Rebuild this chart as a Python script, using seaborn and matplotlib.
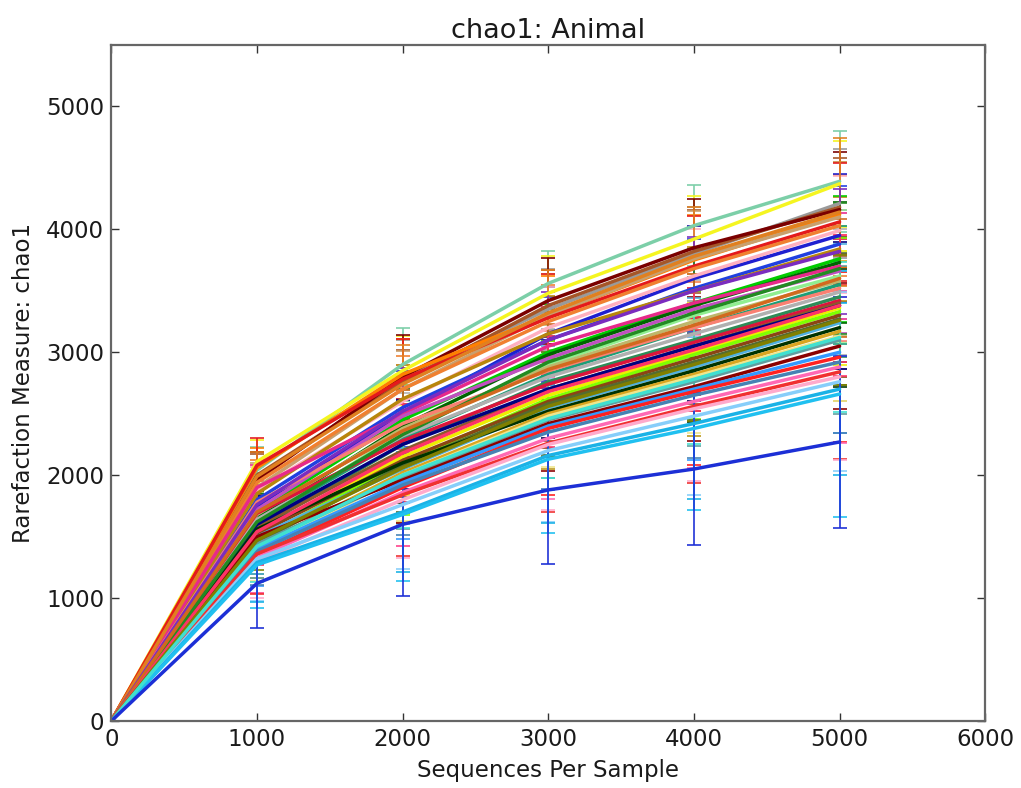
import numpy as np
import pandas as pd
import matplotlib
matplotlib.use('Agg')
import matplotlib.pyplot as plt
import seaborn as sns

# --- data: chao1 at each rarefaction depth ---
depths = [0, 1000, 2000, 3000, 4000, 5000]

mean_1000 = [2040, 2110, 1980, 2000, 1960, 2060, 1900, 2080, 1940, 1750, 1880, 1800, 1850,
             1700, 1650, 1900, 1720, 1600, 1680, 1620, 1780, 1640, 1560, 1690, 1580, 1540,
             1600, 1480, 1520, 1450, 1500, 1560, 1420, 1380, 1440, 1500, 1400, 1350, 1380,
             1330, 1360, 1300, 1320, 1290, 1270, 1990, 1760, 1620, 1700, 1540, 1470, 1420, 1120]
mean_2000 = [2900, 2850, 2780, 2760, 2800, 2820, 2700, 2780, 2700, 2500, 2600, 2550, 2620,
             2450, 2400, 2500, 2480, 2350, 2380, 2300, 2420, 2320, 2250, 2280, 2200, 2150,
             2250, 2100, 2120, 2080, 2050, 2100, 2020, 2000, 1980, 1960, 1940, 1900, 1920,
             1860, 1840, 1800, 1760, 1700, 1680, 2740, 2520, 2330, 2360, 2180, 2060, 2000, 1600]
mean_3000 = [3560, 3480, 3350, 3380, 3420, 3300, 3300, 3280, 3250, 3150, 3200, 3100, 3150,
             3000, 2980, 3050, 2950, 2900, 2880, 2820, 2850, 2800, 2760, 2740, 2700, 2650,
             2700, 2620, 2600, 2580, 2550, 2520, 2500, 2480, 2450, 2420, 2400, 2380, 2350,
             2300, 2260, 2250, 2200, 2160, 2130, 3320, 3100, 2920, 2860, 2680, 2560, 2460, 1880]
mean_4000 = [4030, 3920, 3800, 3820, 3850, 3750, 3760, 3700, 3680, 3600, 3620, 3520, 3500,
             3400, 3380, 3400, 3350, 3300, 3250, 3200, 3200, 3150, 3100, 3080, 3050, 3000,
             3050, 2980, 2950, 2920, 2880, 2850, 2820, 2800, 2760, 2720, 2700, 2680, 2650,
             2600, 2560, 2540, 2480, 2420, 2380, 3780, 3500, 3320, 3220, 3020, 2900, 2780, 2050]
mean_5000 = [4390, 4370, 4210, 4180, 4160, 4120, 4100, 4060, 4030, 3950, 3990, 3880, 3840,
             3760, 3730, 3700, 3660, 3620, 3580, 3550, 3520, 3490, 3450, 3420, 3400, 3360,
             3380, 3330, 3300, 3270, 3240, 3200, 3170, 3130, 3100, 3050, 3000, 2960, 2920,
             2880, 2840, 2800, 2760, 2700, 2660, 4140, 3820, 3680, 3600, 3380, 3260, 3120, 2270]

err_1000 = [190, 180, 210, 170, 230, 160, 200, 220, 180, 240, 190, 210, 170,
            250, 200, 180, 230, 260, 190, 210, 170, 240, 200, 220, 260, 190,
            230, 280, 210, 250, 300, 200, 260, 240, 280, 220, 300, 310, 270,
            290, 330, 300, 340, 320, 350, 200, 230, 250, 220, 270, 240, 290, 360]
err_2000 = [300, 280, 320, 260, 340, 290, 310, 330, 270, 350, 300, 320, 280,
            360, 330, 290, 340, 380, 310, 320, 290, 350, 330, 340, 380, 310,
            360, 420, 340, 380, 450, 330, 400, 370, 420, 350, 460, 480, 410,
            440, 500, 470, 520, 490, 540, 320, 350, 370, 330, 400, 370, 430, 580]
err_3000 = [260, 300, 330, 290, 350, 320, 340, 360, 300, 380, 330, 350, 310,
            390, 370, 320, 380, 420, 340, 360, 320, 390, 370, 380, 420, 350,
            400, 470, 380, 420, 500, 370, 450, 410, 470, 390, 520, 540, 460,
            490, 560, 530, 580, 550, 600, 350, 390, 410, 370, 450, 410, 480, 600]
err_4000 = [330, 350, 380, 340, 400, 370, 390, 410, 350, 430, 380, 400, 360,
            440, 420, 370, 430, 470, 390, 410, 370, 440, 420, 430, 470, 400,
            450, 520, 430, 470, 560, 420, 500, 460, 520, 440, 580, 600, 510,
            540, 620, 590, 640, 610, 660, 400, 440, 460, 420, 500, 460, 530, 620]
err_5000 = [410, 350, 440, 400, 470, 430, 450, 480, 410, 500, 440, 470, 420,
            510, 490, 430, 500, 540, 450, 480, 430, 510, 490, 500, 540, 460,
            520, 600, 500, 540, 640, 480, 570, 530, 600, 510, 660, 690, 580,
            620, 710, 680, 730, 700, 1000, 600, 510, 530, 480, 570, 530, 610, 700]

sample_colors = ['#7ccfa8', '#f5f520', '#9a9a9a', '#a65628', '#7a0000', '#ff7f00', '#c8a06e',
                 '#e41a1c', '#f08030', '#1f1fd0', '#ffb0c0', '#2040e0', '#b8860b', '#00cc00',
                 '#006400', '#e7298a', '#c050c0', '#90ee90', '#bdb76b', '#1b9e77', '#fa8072',
                 '#b0b0b0', '#2e8b57', '#dc143c', '#8b5a2b', '#eeee00', '#000080', '#7fff00',
                 '#8b4513', '#556b2f', '#4fb0e0', '#003300', '#daa520', '#f0e68c', '#5f9ea0',
                 '#8b0000', '#3399ff', '#ff2020', '#4682b4', '#ff69b4', '#f03030', '#ffaacc',
                 '#87cefa', '#1ab2e6', '#20c0f0', '#e08020', '#7b2cbf', '#228b22', '#d2691e',
                 '#ff3366', '#808000', '#40e0d0', '#1c2fd6']

sample_names = ['S%02d' % (i + 1) for i in range(len(sample_colors))]

# --- long table for seaborn ---
means = [[0] * len(sample_names), mean_1000, mean_2000, mean_3000, mean_4000, mean_5000]
errs = [[0] * len(sample_names), err_1000, err_2000, err_3000, err_4000, err_5000]
rows = []
for d, m_col, e_col in zip(depths, means, errs):
    for name, m, e in zip(sample_names, m_col, e_col):
        rows.append({'depth': d, 'sample': name, 'chao1': m, 'err': e})
df = pd.DataFrame(rows)

sns.set_style('ticks')
plt.rcParams['font.family'] = ['DejaVu Sans']
plt.rcParams['text.color'] = '#1a1a1a'
plt.rcParams['axes.labelcolor'] = '#1a1a1a'
plt.rcParams['xtick.color'] = '#1a1a1a'
plt.rcParams['ytick.color'] = '#1a1a1a'

fig = plt.figure(figsize=(10.21, 7.88), dpi=100)
ax = fig.add_axes([0.109, 0.085, 0.856, 0.858])

palette = dict(zip(sample_names, sample_colors))

# error bars first, then the lines on top
for name in sample_names:
    sub = df[(df['sample'] == name) & (df['depth'] > 0)]
    ax.errorbar(sub['depth'], sub['chao1'], yerr=sub['err'], fmt='none',
                ecolor=palette[name], elinewidth=1.3, capsize=5, capthick=1.3,
                alpha=0.9, zorder=1)

sns.lineplot(data=df, x='depth', y='chao1', hue='sample', palette=palette,
             linewidth=2.5, legend=False, ax=ax, zorder=2)

ax.set_xlim(0, 6000)
ax.set_ylim(0, 5500)
ax.set_xticks([0, 1000, 2000, 3000, 4000, 5000, 6000])
ax.set_yticks([0, 1000, 2000, 3000, 4000, 5000])
ax.tick_params(axis='both', which='both', direction='in', top=True, right=True,
               length=6, width=1, color='#333333', labelsize=16.5, pad=5)
for s in ax.spines.values():
    s.set_color('#666666')
    s.set_linewidth(1.6)

ax.set_title('chao1: Animal', fontsize=19.5, pad=5)
ax.set_xlabel('Sequences Per Sample', fontsize=16.5, labelpad=6)
ax.set_ylabel('Rarefaction Measure: chao1', fontsize=16.5, labelpad=8)

fig.savefig('out.png', dpi=100, facecolor='white')
